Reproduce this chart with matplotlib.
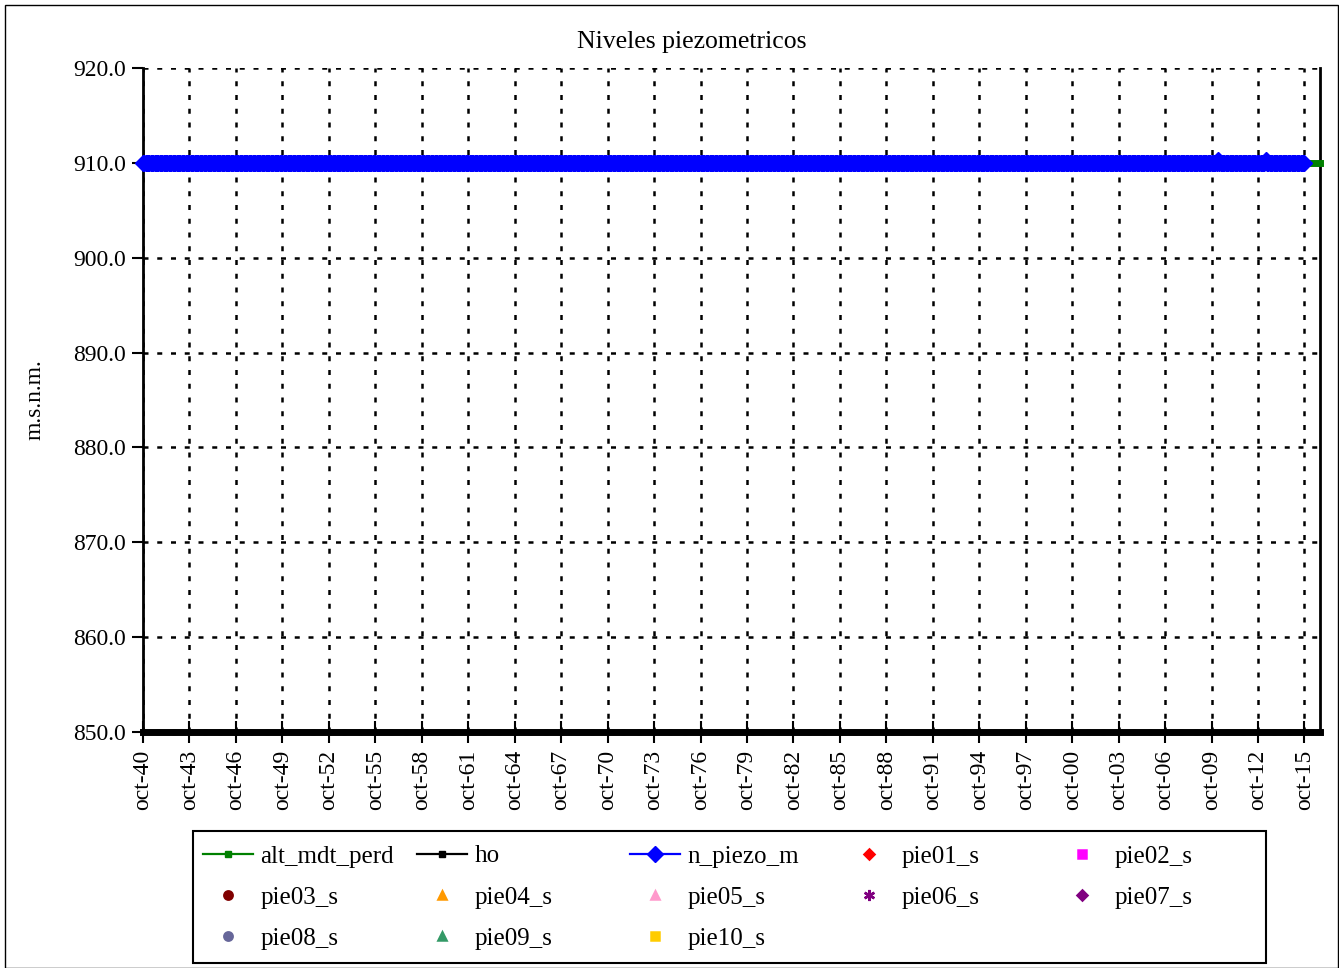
import matplotlib
matplotlib.use("Agg")
import matplotlib.pyplot as plt
from matplotlib.patches import Rectangle
import pandas as pd

# ---- data ----
month_dates = pd.date_range("1940-10-01", "2015-10-01", freq="MS")   # n_piezo_m sampling
year_dates = pd.date_range("1940-10-01", "2016-10-01", freq="12MS")  # alt_mdt_perd / ho
n_piezo_level = 910.0
n_piezo_bumps = {"2010-03-01": 910.3, "2013-04-01": 910.3}
alt_mdt_perd = [910.0] * len(year_dates)
ho = [850.0] * len(year_dates)
n_piezo_m = [n_piezo_bumps.get(d.strftime("%Y-%m-%d"), n_piezo_level) for d in month_dates]

tick_years = list(range(1940, 2016, 3))
tick_labels = ["oct-%02d" % (y % 100) for y in tick_years]
y_ticks = [850, 860, 870, 880, 890, 900, 910, 920]

# sampled series with no points in this window (legend only)
pie_series = [
    ("pie01_s", "D", "#FF0000"), ("pie02_s", "s", "#FF00FF"),
    ("pie03_s", "o", "#800000"), ("pie04_s", "^", "#FF9900"),
    ("pie05_s", "^", "#FF99CC"), ("pie06_s", (6, 2, 0), "#800080"),
    ("pie07_s", "D", "#800080"), ("pie08_s", "o", "#666699"),
    ("pie09_s", "^", "#339966"), ("pie10_s", "s", "#FFCC00"),
]

plt.rcParams["font.family"] = ["Liberation Serif", "DejaVu Serif"]
FS = 17
W, H = 1339, 968

fig = plt.figure(figsize=(W / 100, H / 100), dpi=100)
ax = fig.add_axes([143 / W, 1 - 732 / H, (1320 - 143) / W, (732 - 68) / H])

ax.plot(year_dates, alt_mdt_perd, color="#008000", lw=5, marker="s", ms=3,
        label="alt_mdt_perd", zorder=3, clip_on=False)
ax.plot(year_dates, ho, color="black", lw=5, marker="s", ms=3,
        label="ho", zorder=5, clip_on=False)
ax.plot(month_dates, n_piezo_m, color="#0000FF", lw=2, marker="D", ms=8,
        label="n_piezo_m", zorder=4, clip_on=False)
for name, mk, col in pie_series:
    ms = {"D": 5, "s": 6, (6, 2, 0): 8}.get(mk, 6)
    ax.plot([], [], ls="none", marker=mk, ms=ms, color=col, mec=col, mew=1.8,
            label=name)

ax.set_xlim(pd.Timestamp("1940-10-01"), pd.Timestamp("2016-10-01"))
ax.set_ylim(850, 920)
ax.set_xticks([pd.Timestamp(f"{y}-10-01") for y in tick_years])
ax.set_xticklabels(tick_labels, rotation=90, fontsize=FS)
ax.set_yticks(y_ticks)
ax.set_yticklabels([f"{v:.1f}" for v in y_ticks], fontsize=FS)
ax.tick_params(axis="x", direction="inout", length=16, width=1.5, pad=5)
ax.tick_params(axis="y", direction="out", length=8, width=1.5, pad=4)

ax.grid(True, color="black", lw=1.8, ls=(0, (2, 3.5)))
ax.set_axisbelow(True)
ax.spines["top"].set_visible(False)
for s in ("left", "right", "bottom"):
    ax.spines[s].set_linewidth(2)

ax.set_ylabel("m.s.n.m.", fontsize=FS, labelpad=20)
fig.text(692 / W, 1 - 42 / H, "Niveles piezometricos", fontsize=18.5,
         ha="center", va="center")

# legend: five fixed-pitch columns, filled row by row, inside one frame
handles, labels = ax.get_legend_handles_labels()
col_x = [203, 417, 630, 844, 1057]
for c, x in enumerate(col_x):
    leg = fig.legend(handles[c::5], labels[c::5], loc="upper left",
                     bbox_to_anchor=(x / W, 1 - 845 / H),
                     frameon=False, fontsize=18, handlelength=2.0,
                     handletextpad=0.3, labelspacing=0.75, borderpad=0,
                     borderaxespad=0)
    for lh in leg.legend_handles:
        lh.set_linewidth(1.6)
        if lh.get_marker() == "s" and lh.get_linestyle() != "None":
            lh.set_markersize(4)

fig.patches.append(Rectangle((193 / W, 1 - 963 / H), (1266 - 193) / W, (963 - 831) / H,
                             transform=fig.transFigure, fill=False,
                             edgecolor="black", lw=1.5))
fig.patches.append(Rectangle((5 / W, 0), 1333 / W, 1 - 5 / H,
                             transform=fig.transFigure, fill=False,
                             edgecolor="black", lw=1))

fig.savefig("out.png", dpi=100)
